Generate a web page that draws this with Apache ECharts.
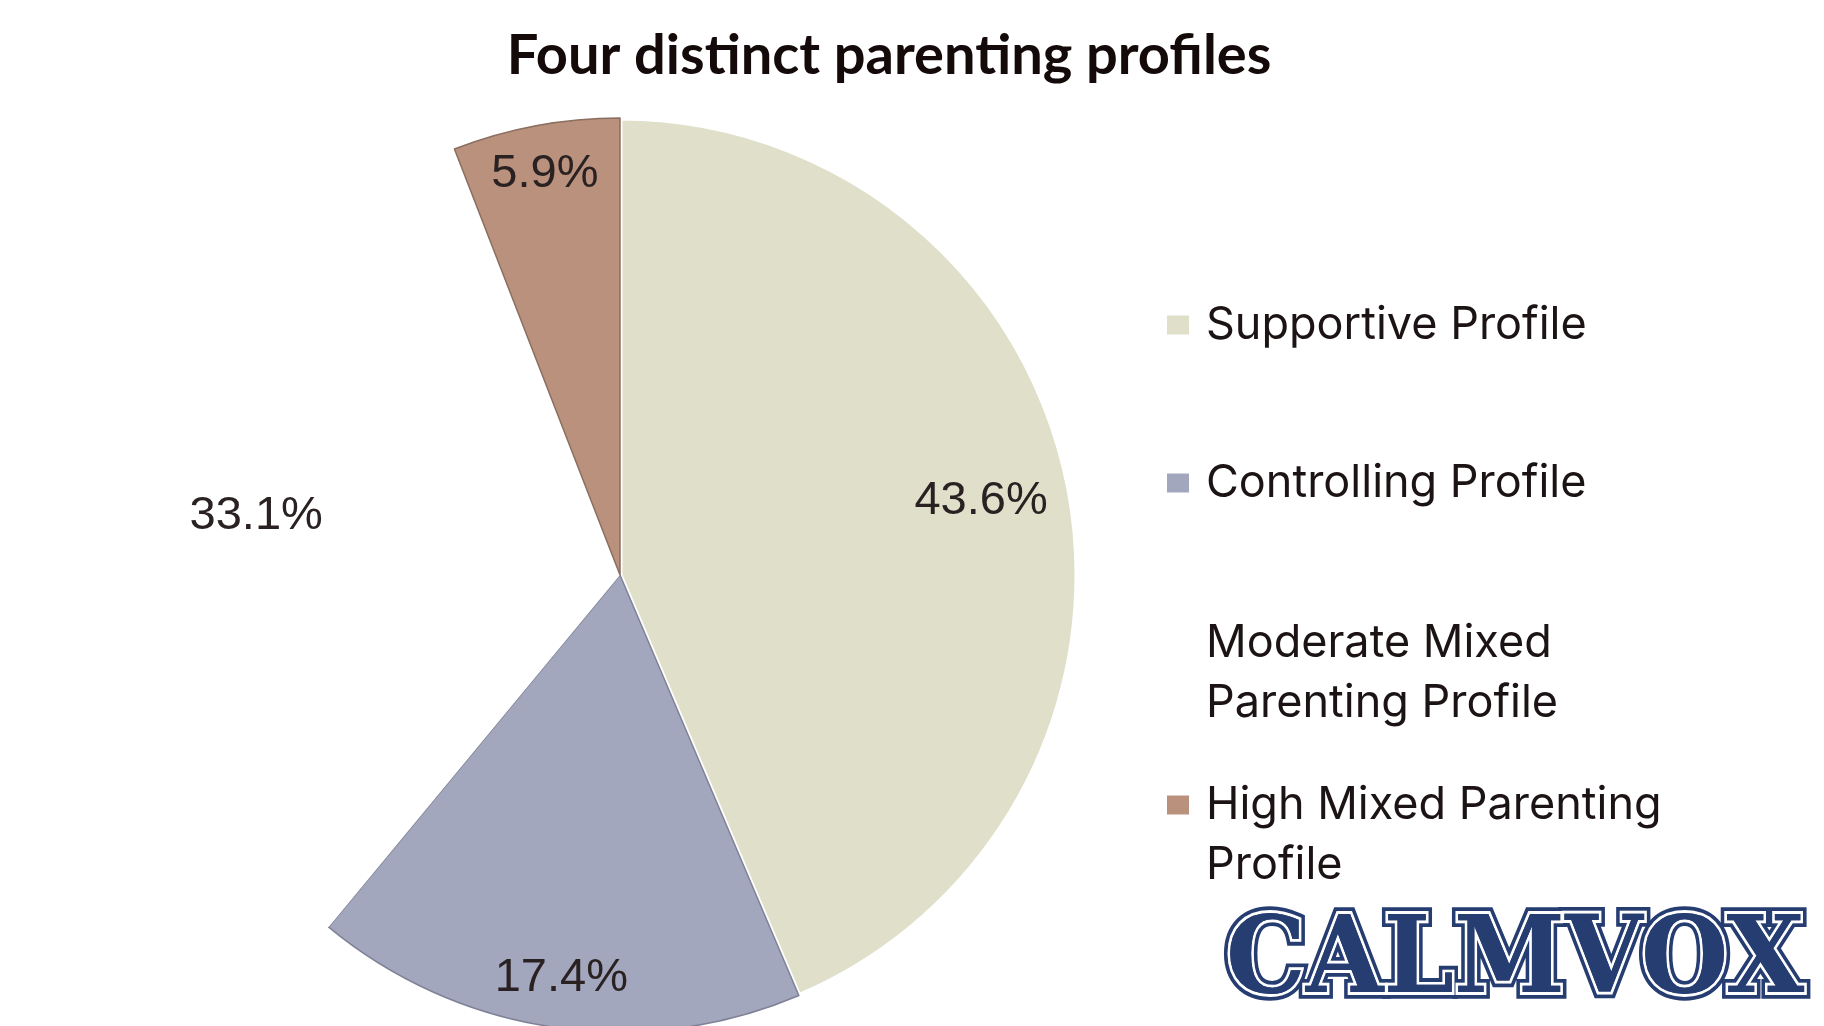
<!DOCTYPE html>
<html>
<head>
<meta charset="utf-8">
<title>Four distinct parenting profiles</title>
<script src="https://cdn.jsdelivr.net/npm/echarts@6/dist/echarts.min.js"></script>
<style>
  html, body { margin: 0; padding: 0; background: #fff; }
  #chart { width: 1824px; height: 1026px; }
</style>
</head>
<body>
<div id="chart"></div>
<script>
// data
const profiles = ['Supportive Profile', 'Controlling Profile', 'Moderate Mixed Parenting Profile', 'High Mixed Parenting Profile']
const shares = [43.6, 17.4, 33.1, 5.9]
// the leading empty line keeps the icon beside the first line
const legendText = ['Supportive Profile', 'Controlling Profile', 'Moderate Mixed\nParenting Profile', '\nHigh Mixed Parenting\nProfile']

// look
const sliceColors = ['#dfdfca', '#a3a7be', '#ffffff', '#b9917d']
const sliceBorders = ['#ffffff', '#7f8296', '#ffffff', '#8a6e60']
const center = [620, 575]
const R = 457
const ink = '#1c1414'

const chart = echarts.init(document.getElementById('chart'))

// invisible ring used only to place the percentage labels along the slices
function labelRing (inner, shown) {
  return {
    type: 'pie',
    center: center,
    radius: [inner, R],
    startAngle: 90,
    silent: true,
    avoidLabelOverlap: false,
    itemStyle: { color: 'transparent', borderWidth: 0 },
    labelLine: { show: false },
    data: profiles.map((name, i) => ({
      name: name,
      value: shares[i],
      label: {
        show: shown.indexOf(i) > -1,
        position: 'inside',
        formatter: p => p.value.toFixed(1) + '%',
        fontFamily: 'Liberation Sans',
        fontSize: 47,
        color: '#2a2222'
      }
    }))
  }
}

const legendTops = [290, 448, 608, 710]

// watermark layer, three of them stacked give the varsity outline
function mark (z, stroke, width) {
  return {
    type: 'text',
    x: 1226,
    y: 964,
    scaleX: 0.895,
    scaleY: 0.96,
    z: z,
    style: {
      text: 'CALMVOX',
      font: 'bold 112px "DejaVu Serif"',
      verticalAlign: 'middle',
      fill: '#263d72',
      stroke: stroke,
      lineWidth: width
    }
  }
}

const option = {
  backgroundColor: '#ffffff',
  animation: false,
  title: {
    text: 'Four distinct parenting profiles',
    left: 884,
    top: 23,
    textAlign: 'center',
    textStyle: { fontFamily: 'Lato', fontWeight: 'bold', fontSize: 56, color: '#140a0a' }
  },
  legend: profiles.map((name, i) => ({
    data: [name],
    orient: 'vertical',
    left: 1162,
    top: legendTops[i],
    icon: 'rect',
    itemWidth: 22,
    itemHeight: 19,
    selectedMode: false,
    itemStyle: { borderWidth: 0 },
    formatter: n => legendText[profiles.indexOf(n)],
    textStyle: {
      fontFamily: 'Inter',
      fontSize: 45,
      lineHeight: 60,
      color: ink,
      padding: [0, 0, 0, 12]
    }
  })),
  series: [
    {
      type: 'pie',
      center: center,
      radius: [0, R],
      startAngle: 90,
      silent: true,
      label: { show: false },
      labelLine: { show: false },
      data: profiles.map((name, i) => ({
        name: name,
        value: shares[i],
        itemStyle: {
          color: sliceColors[i],
          borderColor: sliceBorders[i],
          borderWidth: i === 0 ? 5 : (i === 2 ? 0 : 1.5)
        }
      }))
    },
    labelRing(274, [0, 2]),
    labelRing(352, [1, 3])
  ],
  graphic: [
    mark(10, '#263d72', 14),
    mark(11, '#ffffff', 6),
    mark(12, null, 0)
  ]
}

chart.setOption(option)
</script>
</body>
</html>
